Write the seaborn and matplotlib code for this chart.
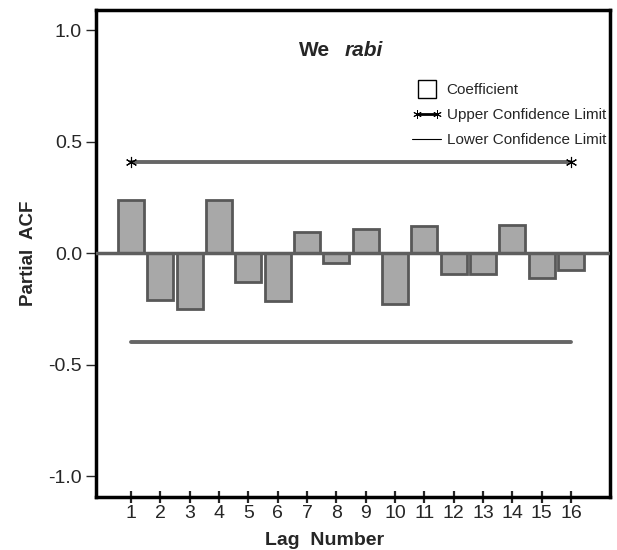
import matplotlib
matplotlib.use('agg')
import matplotlib.pyplot as plt
from matplotlib.lines import Line2D
from matplotlib.legend_handler import HandlerLine2D
import seaborn as sns
import numpy as np

# Datos de la PACF
lags = list(range(1, 17))
pacf = [0.24, -0.21, -0.25, 0.24, -0.13, -0.215, 0.095, -0.045,
        0.11, -0.23, 0.12, -0.095, -0.095, 0.125, -0.11, -0.075]
upper_limit = 0.41
lower_limit = -0.40
y_ticks = [-1.0, -0.5, 0.0, 0.5, 1.0]

sns.set_style('ticks')
plt.rcParams['font.family'] = ['Liberation Sans', 'DejaVu Sans']
plt.rcParams['axes.unicode_minus'] = False

fig = plt.figure(figsize=(6.17, 5.5), dpi=100)
ax = fig.add_axes([0.1556, 0.0964, 0.8331, 0.8854])

sns.barplot(x=lags, y=pacf, native_scale=True, width=0.88,
            color='#a8a8a8', edgecolor='#585858', linewidth=2, ax=ax, zorder=3)

# línea del cero
ax.axhline(0, color='#5e5e5e', linewidth=2.5, zorder=4)

# límites de confianza
ax.plot([lags[0], lags[-1]], [upper_limit, upper_limit], color='#666666', linewidth=2.8,
        marker=(6, 2, 0), markersize=8, markeredgecolor='black', markeredgewidth=0.8, zorder=2)
ax.plot([lags[0], lags[-1]], [lower_limit, lower_limit], color='#666666', linewidth=2.8, zorder=2)

ax.set_xlim(-0.19, 17.33)
ax.set_ylim(-1.094, 1.09)
ax.set_xticks(lags)
ax.set_xticklabels([str(l) for l in lags], fontsize=14)
ax.set_yticks(y_ticks)
ax.set_yticklabels([f'{v:.1f}' for v in y_ticks], fontsize=14)
ax.tick_params(axis='x', direction='inout', length=8, width=1.6, pad=2)
ax.tick_params(axis='y', direction='out', length=7, width=1, pad=3)

for s in ax.spines.values():
    s.set_visible(True)
    s.set_linewidth(2.5)
    s.set_color('black')

ax.set_xlabel('Lag  Number', fontsize=14, fontweight='bold')
ax.xaxis.set_label_coords(0.445, -0.072)
ax.set_ylabel('Partial  ACF', fontsize=13.5, fontweight='bold', labelpad=8)

ax.text(0.455, 0.916, 'We', fontsize=15, fontweight='bold', ha='right', va='center',
        transform=ax.transAxes)
ax.text(0.484, 0.916, 'rabi', fontsize=15, fontweight='bold', style='italic', ha='left',
        va='center', transform=ax.transAxes)

handles = [
    Line2D([], [], linestyle='none', marker='s', markersize=13, markerfacecolor='none',
           markeredgecolor='black', markeredgewidth=1),
    Line2D([], [], color='black', linewidth=2, marker=(6, 2, 0), markersize=6,
           markeredgewidth=0.7),
    Line2D([], [], color='black', linewidth=0.8),
]
labels = ['Coefficient', 'Upper Confidence Limit', 'Lower Confidence Limit']
ax.legend(handles, labels, loc='upper left', bbox_to_anchor=(0.615, 0.85), frameon=False,
          fontsize=11, borderpad=0, borderaxespad=0, handlelength=1.9, handletextpad=0.35,
          labelspacing=0.72, numpoints=1,
          handler_map={handles[1]: HandlerLine2D(numpoints=2)})

plt.savefig('out.png', dpi=100)
plt.close()
